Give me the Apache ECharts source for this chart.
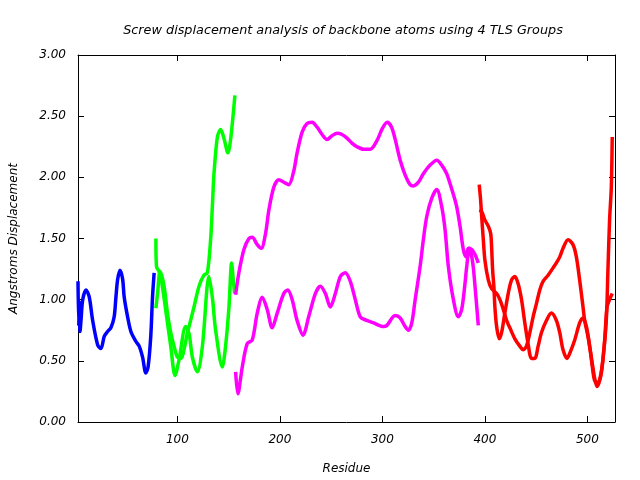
<!DOCTYPE html>
<html><head><meta charset="utf-8">
<script src="https://cdn.jsdelivr.net/npm/echarts@6/dist/echarts.min.js"></script>
<style>html,body{margin:0;padding:0;background:#fff}#c{width:640px;height:480px}</style>
</head><body><div id="c"></div>
<script>
// Data (residue, screw displacement in Angstroms)
const xTicks = [100, 200, 300, 400, 500];
const yTicks = [0, 0.5, 1, 1.5, 2, 2.5, 3];

const g1Res = [3, 3.7, 4.3, 5, 6, 7.6, 10.8, 14, 17.3, 22.2, 25.4, 28.6, 31.9, 35.1, 38.3, 40, 41.6, 43.9, 46.5, 48.1, 51.4, 54.6, 59.4, 62.7, 66, 69.2, 71.4, 74, 75.7, 77.3];
const g1Val = [1.15, 0.78, 0.98, 0.74, 0.84, 1.0, 1.08, 1.02, 0.83, 0.63, 0.60, 0.70, 0.74, 0.77, 0.86, 1.02, 1.16, 1.24, 1.17, 1.02, 0.86, 0.74, 0.66, 0.62, 0.53, 0.40, 0.45, 0.70, 1.02, 1.22];

const g2aRes = [79, 79.6, 82.1, 84.4, 90.3, 93.5, 97.7, 101.6, 108.1, 111.4, 114.6, 119.5, 124.4, 130.8, 134.1, 137.3, 143.8, 147, 150.3, 152.9, 154.5, 155.8];
const g2aVal = [1.50, 1.27, 1.23, 1.16, 0.81, 0.62, 0.38, 0.51, 0.78, 0.72, 0.53, 0.41, 0.62, 1.19, 1.02, 0.75, 0.45, 0.62, 0.94, 1.30, 1.16, 1.05];
const g2bRes = [79, 80.6, 83.1, 87, 90.3, 93.5, 96.7, 100, 103.2, 109.8, 116.2, 121.1, 125.9, 129.2, 132.4, 134.1, 135.7, 139, 142.2, 145.4, 149.3, 151.9, 154.5, 156.1];
const g2bVal = [0.93, 1.05, 1.23, 1.11, 0.89, 0.73, 0.62, 0.53, 0.52, 0.73, 0.94, 1.11, 1.20, 1.22, 1.49, 1.76, 2.03, 2.33, 2.39, 2.32, 2.20, 2.31, 2.52, 2.67];

const g3aRes = [156.8, 160, 164.9, 169.8, 173, 177.9, 181.8, 186, 189.2, 194.1, 199, 203.8, 208.7, 213.5, 216.8, 221.7, 226.5, 231.4, 236.3, 241.2, 246, 250.9, 255.8, 260.6, 265.5, 270.3, 275.2, 281.7, 288.2, 294.7, 300, 304.7, 309, 312.5, 317.4, 322.2, 327.1, 330.3, 335.2, 340, 346.6, 353.1, 357.9, 362.8, 366, 369.3, 372.5, 375.8, 379, 381.6, 383.9, 387.2, 390.4, 393.6];
const g3aVal = [1.04, 1.22, 1.41, 1.50, 1.51, 1.45, 1.42, 1.54, 1.73, 1.92, 1.98, 1.96, 1.94, 2.05, 2.20, 2.37, 2.44, 2.45, 2.41, 2.35, 2.31, 2.34, 2.36, 2.35, 2.32, 2.28, 2.25, 2.23, 2.23, 2.30, 2.40, 2.45, 2.41, 2.31, 2.14, 2.02, 1.94, 1.93, 1.96, 2.03, 2.10, 2.14, 2.10, 2.03, 1.95, 1.86, 1.76, 1.60, 1.41, 1.35, 1.42, 1.41, 1.37, 1.30];
const g3bRes = [156.8, 159, 163.3, 168.1, 173, 177.9, 182.8, 187.6, 192.5, 197.4, 203.8, 207.7, 212, 216.8, 222.6, 228.1, 234.6, 239.5, 244.4, 249.2, 254.1, 259, 263.8, 268.7, 273.6, 278.4, 284.9, 291.4, 301.1, 304.4, 312.5, 317.4, 322.2, 325.4, 328.7, 332, 336.8, 340, 343.3, 348.2, 353.1, 357.9, 361.2, 364.4, 369.3, 374.1, 377.4, 380.6, 382.3, 384.9, 388.2, 391.3, 393.6];
const g3bVal = [0.41, 0.23, 0.45, 0.64, 0.67, 0.89, 1.02, 0.92, 0.77, 0.89, 1.05, 1.08, 1.00, 0.83, 0.71, 0.86, 1.05, 1.11, 1.05, 0.94, 1.05, 1.19, 1.22, 1.15, 1.00, 0.86, 0.83, 0.81, 0.78, 0.79, 0.87, 0.85, 0.78, 0.75, 0.81, 1.00, 1.27, 1.49, 1.68, 1.83, 1.90, 1.76, 1.57, 1.27, 1.00, 0.86, 0.92, 1.13, 1.27, 1.42, 1.30, 1.02, 0.79];

const g4aRes = [394.5, 395.9, 396.9, 398.5, 400.1, 403.4, 406.6, 411.5, 414.7, 418, 421.2, 424.4, 429.3, 434.1, 437.4, 440.6, 443.9, 447.1, 450.4, 453.6, 456.8, 461.7, 466.6, 469.8, 473.1, 476.3, 481.2, 486, 489.3, 492.5, 495.8, 497.4, 500.6, 503.9, 507.1, 509.4, 512, 515.2, 518.5, 520.1, 521.7, 523.4, 524.3];
const g4aVal = [1.94, 1.81, 1.68, 1.49, 1.32, 1.16, 1.09, 1.05, 1.00, 0.92, 0.83, 0.77, 0.68, 0.62, 0.59, 0.62, 0.73, 0.86, 0.97, 1.08, 1.15, 1.20, 1.26, 1.30, 1.35, 1.42, 1.49, 1.45, 1.35, 1.16, 0.94, 0.83, 0.70, 0.53, 0.36, 0.29, 0.34, 0.51, 0.83, 1.24, 1.65, 1.92, 2.33];
const g4bRes = [394.5, 396.9, 400.1, 403.4, 405.7, 406.6, 407.6, 408.8, 409.8, 411.5, 414, 416.3, 419.5, 422.8, 426, 429.3, 432.5, 435.8, 439, 442.2, 445.5, 448.7, 452, 455.2, 460.1, 464.9, 469.8, 473.1, 476.3, 480.2, 482.8, 487.7, 492.5, 495.8, 499.1, 502.3, 504.9, 507.1, 510.4, 513.7, 516.9, 519.2, 521.7, 524.3];
const g4bVal = [1.73, 1.72, 1.65, 1.60, 1.54, 1.43, 1.24, 1.11, 0.94, 0.78, 0.68, 0.73, 0.89, 1.05, 1.16, 1.19, 1.13, 1.00, 0.81, 0.64, 0.52, 0.52, 0.62, 0.73, 0.83, 0.89, 0.83, 0.73, 0.59, 0.52, 0.56, 0.67, 0.81, 0.85, 0.78, 0.62, 0.45, 0.34, 0.32, 0.40, 0.67, 0.94, 1.00, 1.05];

const zip = (a, b) => a.map((x, i) => [x, b[i]]);
const curves = [
  {name: 'Group 1', res: g1Res, val: g1Val, color: '#0000ff'},
  {name: 'Group 2', res: g2aRes, val: g2aVal, color: '#00ff00'},
  {name: 'Group 2', res: g2bRes, val: g2bVal, color: '#00ff00'},
  {name: 'Group 3', res: g3aRes, val: g3aVal, color: '#ff00ff'},
  {name: 'Group 3', res: g3bRes, val: g3bVal, color: '#ff00ff'},
  {name: 'Group 4', res: g4aRes, val: g4aVal, color: '#ff0000'},
  {name: 'Group 4', res: g4bRes, val: g4bVal, color: '#ff0000'}
];

const font = {fontFamily: 'DejaVu Sans', fontStyle: 'italic', fontSize: 12, color: '#000'};
const axisLine = {show: true, onZero: false, lineStyle: {color: '#000', width: 1}};
const xMin = 3, xMax = 527, yMin = 0, yMax = 3;

const chart = echarts.init(document.getElementById('c'), null, {renderer: 'canvas'});
chart.setOption({
  animation: false,
  backgroundColor: '#fff',
  title: {
    text: 'Screw displacement analysis of backbone atoms using 4 TLS Groups',
    left: 338, top: 19, textAlign: 'center',
    textStyle: Object.assign({}, font, {fontWeight: 'normal', fontSize: 12.8})
  },
  grid: {left: 77, right: 25, top: 55, bottom: 58, containLabel: false},
  xAxis: [{
    type: 'value', min: xMin, max: xMax, position: 'bottom',
    name: 'Residue', nameLocation: 'middle', nameGap: 41,
    nameTextStyle: font,
    axisLine: axisLine,
    axisTick: {show: true, inside: true, length: 6, customValues: xTicks, lineStyle: {color: '#000'}},
    axisLabel: Object.assign({customValues: xTicks, margin: 12}, font),
    splitLine: {show: false}
  }, {
    type: 'value', min: xMin, max: xMax, position: 'top',
    axisLine: axisLine,
    axisTick: {show: true, inside: true, length: 6, customValues: xTicks, lineStyle: {color: '#000'}},
    axisLabel: {show: false},
    splitLine: {show: false}
  }],
  yAxis: [{
    type: 'value', min: yMin, max: yMax, interval: 0.5, position: 'left',
    name: 'Angstroms Displacement', nameLocation: 'middle', nameGap: 58, nameRotate: 90,
    nameTextStyle: font,
    axisLine: axisLine,
    axisTick: {show: true, inside: true, length: 6, lineStyle: {color: '#000'}},
    axisLabel: Object.assign({margin: 12, formatter: v => v.toFixed(2)}, font),
    splitLine: {show: false}
  }, {
    type: 'value', min: yMin, max: yMax, interval: 0.5, position: 'right',
    axisLine: axisLine,
    axisTick: {show: true, inside: true, length: 6, lineStyle: {color: '#000'}},
    axisLabel: {show: false},
    splitLine: {show: false}
  }],
  series: curves.map(c => ({
    type: 'line', name: c.name, xAxisIndex: 0, yAxisIndex: 0,
    data: zip(c.res, c.val),
    showSymbol: false, smooth: 0.3,
    lineStyle: {color: c.color, width: 3.5},
    itemStyle: {color: c.color},
    z: 3
  }))
});
</script>
</body></html>
